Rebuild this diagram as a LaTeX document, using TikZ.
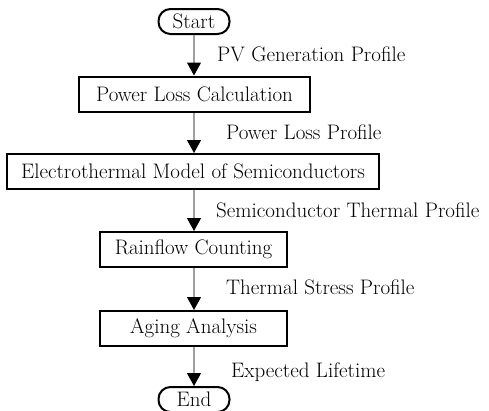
\documentclass[tikz,border=0pt]{standalone}
\usetikzlibrary{arrows.meta}
\begin{document}
\begin{tikzpicture}[x=1pt,y=-1pt,
  every node/.style={font=\fontsize{21}{24}\selectfont},
  procbox/.style={draw=black,line width=2pt,inner sep=0pt,minimum height=35pt},
  pill/.style={draw=black,line width=2pt,inner sep=0pt,rounded corners=12pt,minimum height=25pt,minimum width=71pt},
  flow/.style={draw=gray!75,line width=1.2pt,-{Triangle[length=13pt,width=14pt,fill=black,color=black]}},
  lbl/.style={anchor=west,inner sep=0pt}]
\useasboundingbox (0,0) rectangle (489,410);
\node[pill] (start) at (194,21.5) {Start};
\node[procbox,minimum width=231pt] (plc) at (194.5,94) {Power Loss Calculation};
\node[procbox,minimum width=372pt] (etm) at (193,171.5) {Electrothermal Model of Semiconductors};
\node[procbox,minimum width=187pt] (rfc) at (193.5,249.5) {Rainflow Counting};
\node[procbox,minimum width=187pt] (aga) at (193.5,328.5) {Aging Analysis};
\node[pill] (end) at (194,399.5) {End};
\draw[flow] (start.south -| 194,0) -- (plc.north -| 194,0);
\draw[flow] (plc.south -| 194,0) -- (etm.north -| 194,0);
\draw[flow] (etm.south -| 194,0) -- (rfc.north -| 194,0);
\draw[flow] (rfc.south -| 194,0) -- (aga.north -| 194,0);
\draw[flow] (aga.south -| 194,0) -- (end.north -| 194,0);
\node[lbl] (l1) at (217,54) {PV Generation Profile};
\node[lbl] (l2) at (226,132) {Power Loss Profile};
\node[lbl] (l3) at (216,210) {Semiconductor Thermal Profile};
\node[lbl] (l4) at (226,287) {Thermal Stress Profile};
\node[lbl] (l5) at (231,372) {Expected Lifetime};
\end{tikzpicture}
\end{document}
